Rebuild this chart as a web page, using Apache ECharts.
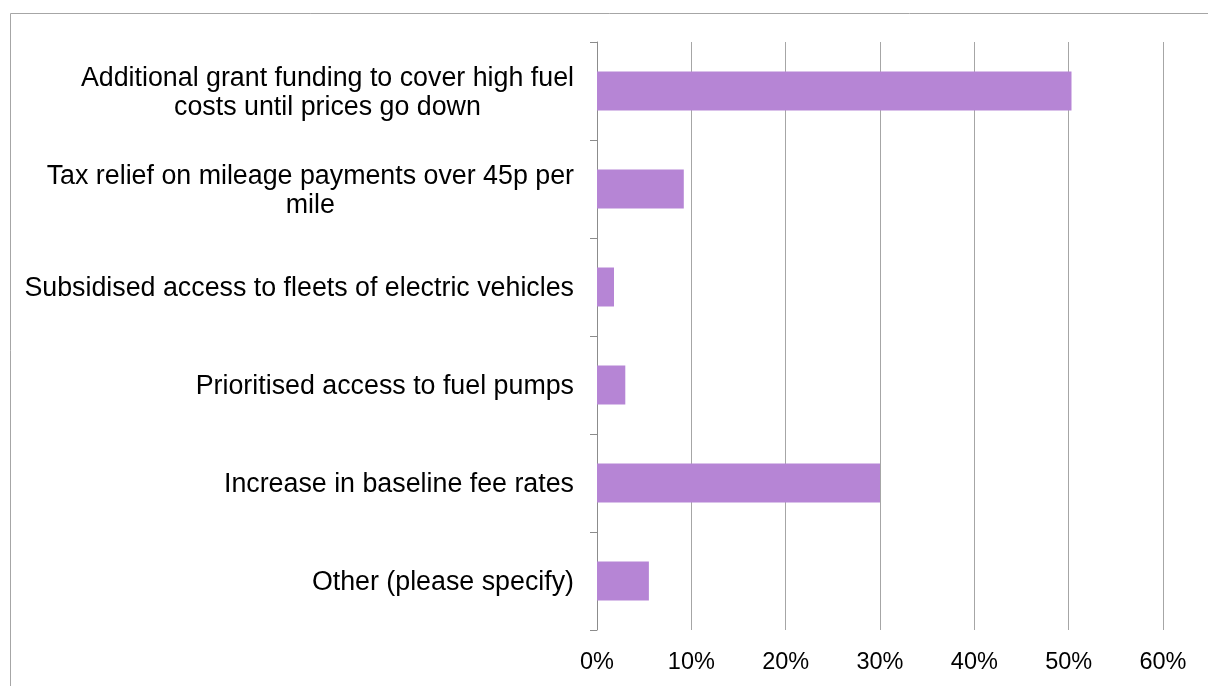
<!DOCTYPE html>
<html>
<head>
<meta charset="utf-8">
<script src="https://cdn.jsdelivr.net/npm/echarts@6/dist/echarts.min.js"></script>
<style>
  html, body { margin: 0; padding: 0; background: #ffffff; }
  #chart { width: 1208px; height: 686px; }
</style>
</head>
<body>
<div id="chart"></div>
<script>
// Survey options (line breaks mark where each label wraps)
const categories = [
  'Additional grant funding to cover high fuel\ncosts until prices go down',
  'Tax relief on mileage payments over 45p per\nmile',
  'Subsidised access to fleets of electric vehicles',
  'Prioritised access to fuel pumps',
  'Increase in baseline fee rates',
  'Other (please specify)'
];

// Share of respondents choosing each option (%)
const shares = [50.3, 9.2, 1.8, 3.0, 30.0, 5.5];

// Value axis tick labels
const tickLabels = ['0%', '10%', '20%', '30%', '40%', '50%', '60%'];

const FONT = '"Liberation Sans", Arial, sans-serif';
const GRID_GREY = '#a6a6a6';

const chart = echarts.init(document.getElementById('chart'), null, { renderer: 'canvas' });

chart.setOption({
  backgroundColor: '#ffffff',
  animation: false,
  graphic: [{
    type: 'rect',
    silent: true,
    shape: { x: 10.5, y: 13.5, width: 1400, height: 900 },
    style: { fill: 'none', stroke: GRID_GREY, lineWidth: 1 }
  }],
  grid: { left: 597, right: 45, top: 42, bottom: 56, containLabel: false },
  xAxis: {
    type: 'value',
    min: 0,
    max: 60,
    interval: 10,
    axisLine: { show: false },
    axisTick: { show: false },
    splitLine: { show: true, lineStyle: { color: GRID_GREY, width: 1 } },
    axisLabel: {
      margin: 21,
      fontFamily: FONT,
      fontSize: 23.5,
      color: '#000000',
      formatter: (v) => tickLabels[Math.round(v / 10)]
    }
  },
  yAxis: {
    type: 'category',
    inverse: true,
    data: categories,
    axisLine: { show: true, lineStyle: { color: '#8c8c8c', width: 1 } },
    axisTick: { show: true, length: 7, lineStyle: { color: '#8c8c8c' } },
    splitLine: { show: false },
    axisLabel: {
      margin: 23,
      padding: [4, 0, 0, 0],
      fontFamily: FONT,
      fontSize: 26.8,
      color: '#000000',
      lineHeight: 29,
      formatter: (v) => v.split('\n').map((l) => '{c|' + l + '}').join('\n'),
      rich: {
        c: { align: 'center', fontFamily: FONT, fontSize: 26.8, lineHeight: 29, color: '#000000' }
      }
    }
  },
  series: [{
    type: 'bar',
    data: shares,
    barWidth: 39,
    itemStyle: { color: '#b685d5' },
    silent: true
  }]
});
</script>
</body>
</html>
